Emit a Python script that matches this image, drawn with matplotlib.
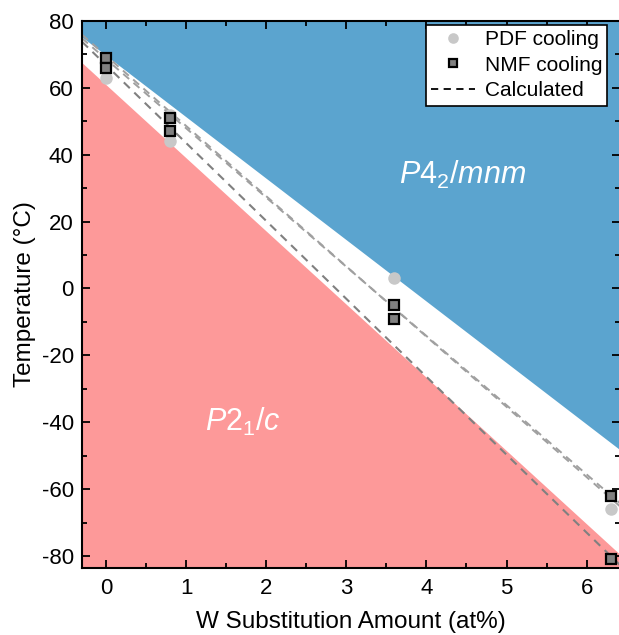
import numpy as np
import matplotlib
matplotlib.use('Agg')
import matplotlib.pyplot as plt

plt.rcParams['font.family'] = ['Liberation Sans', 'DejaVu Sans']
plt.rcParams['mathtext.fontset'] = 'custom'
plt.rcParams['mathtext.it'] = 'Liberation Sans:italic'
plt.rcParams['mathtext.rm'] = 'Liberation Sans'
plt.rcParams['axes.unicode_minus'] = False

# data
pdf_x = [0, 0, 0.8, 0.8, 3.6, 6.3]
pdf_t = [63, 67, 52, 44, 3, -66]
nmf_x = [0, 0, 0.8, 0.8, 3.6, 3.6, 6.3, 6.3]
nmf_t = [69, 66, 51, 47, -5, -9, -62, -81]

# phase boundaries (x, T) end points
blue_edge_x = [-0.3, 6.42]
blue_edge_t = [75.2, -48.3]
red_edge_x = [-0.3, 6.42]
red_edge_t = [67.5, -79.6]

# calculated lines (intercept, slope)
calc_upper = [(68.6, -20.7), (69.6, -21.0)]
calc_lower = (66.8, -23.3)

xmin, xmax = -0.3, 6.42
ymin, ymax = -83.6, 80

fig = plt.figure(figsize=(6.19, 6.35), dpi=100)
ax = fig.add_axes([0.1325, 0.1055, 0.8695, 0.8615])

# shaded regions
ax.fill_between(blue_edge_x, blue_edge_t, [ymax, ymax], color='#5ba4cf', lw=0, zorder=1)
ax.fill_between(red_edge_x, [ymin, ymin], red_edge_t, color='#fd9999', lw=0, zorder=1)

xx = np.array([xmin, xmax])
for b, m in calc_upper:
    ax.plot(xx, b + m * xx, ls=(0, (4, 3)), color='#a0a0a0', lw=1.4, zorder=2)
ax.plot(xx, calc_lower[0] + calc_lower[1] * xx, ls=(0, (4, 3)), color='#808080', lw=1.5, zorder=2)

ax.plot(pdf_x, pdf_t, 'o', color='#c8c8c8', ms=9, mec='none', zorder=3, label='PDF cooling')
ax.plot(nmf_x, nmf_t, 's', color='#808080', mec='black', mew=1.6, ms=7.5, zorder=4, label='NMF cooling')
ax.plot([], [], ls=(0, (4, 3)), color='black', lw=1.3, label='Calculated')

ax.text(4.45, 34, r'$\mathit{P4_2/mnm}$', color='white', fontsize=22, ha='center', va='center')
ax.text(1.71, -40, r'$\mathit{P2_1/c}$', color='white', fontsize=22, ha='center', va='center')

ax.set_xlim(xmin, xmax)
ax.set_ylim(ymin, ymax)
ax.set_xticks(range(0, 7))
ax.set_yticks(range(-80, 81, 20))
ax.set_xticks(np.arange(0.5, 6.5, 1), minor=True)
ax.set_yticks(np.arange(-70, 80, 20), minor=True)
ax.tick_params(which='both', direction='in', top=True, right=True, width=1.3)
ax.tick_params(which='major', length=6, labelsize=16)
ax.tick_params(axis='x', which='major', pad=7)
ax.tick_params(axis='y', which='major', pad=6)
ax.tick_params(which='minor', length=3.5)
for s in ax.spines.values():
    s.set_linewidth(1.5)

ax.set_xlabel('W Substitution Amount (at%)', fontsize=17.5, labelpad=9)
ax.set_ylabel('Temperature (°C)', fontsize=17.5, labelpad=4)

leg = ax.legend(loc='upper right', bbox_to_anchor=(0.976, 0.993), fontsize=15, frameon=True,
                fancybox=False, edgecolor='black', framealpha=1, borderpad=0.25,
                handlelength=2.1, handletextpad=0.45, labelspacing=0.32, borderaxespad=0,
                markerscale=0.85)
leg.get_frame().set_linewidth(1.2)

fig.savefig('out.png', dpi=100)
